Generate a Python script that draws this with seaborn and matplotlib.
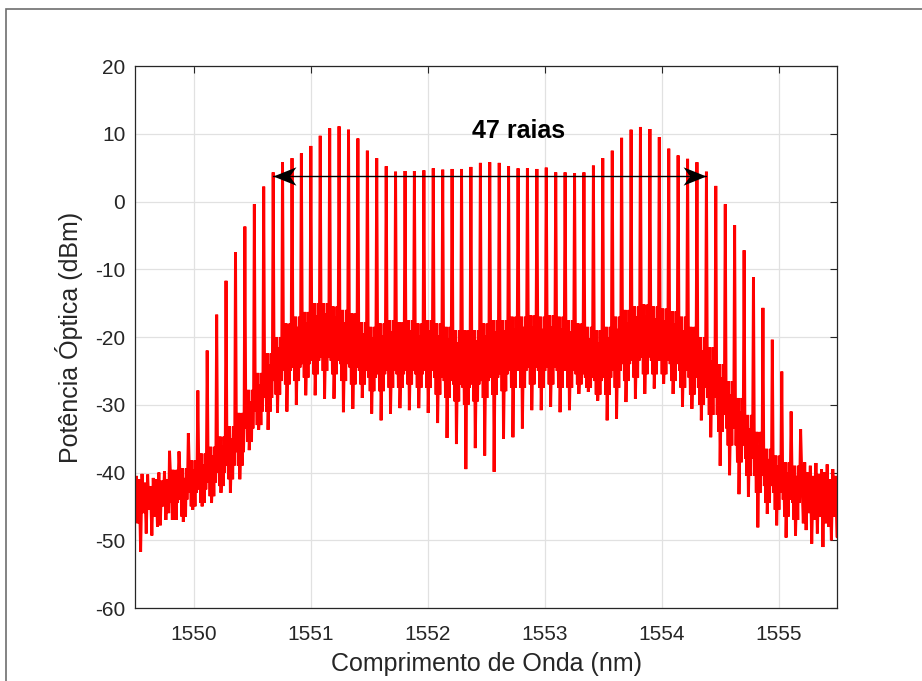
import numpy as np
import pandas as pd
import matplotlib
matplotlib.use("Agg")
import matplotlib.pyplot as plt
import matplotlib.path as mpath
from matplotlib.patches import Rectangle
import seaborn as sns

# ---------------- data ----------------
comb_wl = [1549.795, 1549.876, 1549.956, 1550.037, 1550.117, 1550.198, 1550.278, 1550.359,
           1550.439, 1550.520, 1550.600, 1550.681, 1550.761, 1550.842, 1550.922, 1551.003,
           1551.083, 1551.164, 1551.244, 1551.325, 1551.405, 1551.486, 1551.566, 1551.647,
           1551.727, 1551.808, 1551.888, 1551.969, 1552.049, 1552.130, 1552.210, 1552.291,
           1552.371, 1552.452, 1552.532, 1552.613, 1552.693, 1552.774, 1552.854, 1552.935,
           1553.015, 1553.096, 1553.176, 1553.257, 1553.337, 1553.418, 1553.498, 1553.579,
           1553.659, 1553.740, 1553.820, 1553.901, 1553.981, 1554.062, 1554.142, 1554.223,
           1554.303, 1554.384, 1554.464, 1554.545, 1554.625, 1554.706, 1554.786, 1554.867,
           1554.947, 1555.028, 1555.108, 1555.189]

comb_peak_db = [-36.8, -36.9, -34.2, -27.9, -22.0, -16.7, -11.7, -7.5, -3.7, -0.4, 2.2, 4.3,
                5.8, 6.4, 7.1, 8.2, 9.7, 10.8, 11.1, 10.6, 9.3, 7.5, 6.4, 5.2, 4.4, 4.5, 4.5,
                4.6, 4.9, 4.7, 4.8, 4.8, 5.1, 5.7, 5.8, 5.7, 5.2, 4.9, 4.9, 4.8, 5.0, 4.3, 4.3,
                4.2, 4.3, 5.3, 6.4, 7.5, 9.4, 10.6, 11.0, 10.7, 9.5, 7.8, 6.8, 6.3, 5.8, 4.4,
                2.3, -0.4, -3.5, -7.2, -11.2, -15.7, -20.4, -25.1, -31.0, -33.6]

# trace levels between consecutive comb lines
gap_hi_db = [-39.6, -39.4, -38.2, -37.2, -36.2, -34.7, -33.2, -31.2, -27.8, -25.3, -22.4,
             -20.0, -18.0, -17.0, -16.3, -15.0, -15.0, -15.5, -16.0, -16.5, -17.8, -18.5,
             -18.0, -17.5, -17.8, -17.5, -18.0, -17.5, -18.0, -18.5, -19.0, -19.0, -19.0,
             -18.0, -17.5, -17.5, -17.0, -17.0, -16.8, -17.0, -16.8, -17.0, -17.5, -18.0,
             -18.5, -19.0, -18.5, -17.0, -16.0, -15.5, -15.2, -15.5, -15.8, -16.2, -17.0,
             -18.5, -20.0, -21.5, -24.0, -26.5, -29.0, -31.5, -34.0, -36.5, -37.5, -38.5,
             -39.0]
gap_hi2_db = [-41.0, -40.8, -39.5, -38.8, -37.5, -36.0, -35.0, -33.0, -29.5, -27.0, -24.0,
              -21.5, -19.5, -18.5, -17.8, -16.8, -16.5, -17.0, -17.8, -18.2, -19.5, -20.0,
              -19.8, -19.2, -19.5, -19.0, -19.8, -19.0, -19.8, -20.2, -20.8, -21.0, -20.5,
              -19.8, -19.2, -19.0, -18.8, -18.5, -18.5, -18.8, -18.4, -18.8, -19.2, -19.8,
              -20.2, -20.8, -20.0, -18.8, -17.8, -17.0, -16.8, -17.2, -17.5, -18.0, -19.0,
              -20.5, -22.0, -23.5, -26.0, -28.5, -31.0, -33.5, -36.0, -38.0, -39.0, -40.0,
              -40.5]
gap_mid_db = [-44.5, -44.0, -43.0, -42.5, -41.5, -40.0, -39.0, -37.0, -33.5, -31.0, -29.0,
              -26.5, -25.0, -24.5, -24.0, -23.5, -23.0, -23.5, -24.0, -24.5, -25.0, -26.0,
              -25.5, -25.0, -25.5, -25.0, -25.5, -25.0, -26.0, -26.5, -27.0, -27.5, -27.0,
              -26.5, -26.0, -25.5, -25.0, -25.0, -24.5, -25.0, -24.5, -25.0, -25.0, -25.5,
              -26.0, -26.5, -26.0, -25.0, -24.0, -23.5, -23.0, -23.5, -23.5, -24.0, -25.0,
              -26.0, -27.5, -29.0, -31.5, -33.5, -36.0, -38.0, -40.5, -42.0, -43.0, -44.0,
              -44.5]
gap_mid2_db = [-47.0, -46.5, -45.0, -44.5, -43.5, -42.0, -41.0, -39.0, -35.5, -33.0, -31.0,
               -28.5, -27.0, -26.5, -26.0, -25.5, -25.0, -25.5, -26.5, -27.0, -27.0, -28.0,
               -28.0, -27.5, -27.5, -27.0, -27.5, -27.5, -28.5, -29.0, -29.5, -30.0, -29.5,
               -29.0, -28.5, -28.0, -27.5, -27.5, -27.0, -27.5, -27.0, -27.5, -27.5, -27.0,
               -27.5, -28.5, -28.5, -27.5, -26.5, -26.0, -25.5, -25.5, -25.5, -26.5, -27.5,
               -28.5, -30.0, -31.5, -34.0, -36.0, -38.5, -40.5, -43.0, -44.5, -45.5, -46.5,
               -47.0]
gap_lo_db = [-47.0, -47.3, -45.5, -45.0, -44.5, -43.0, -43.0, -41.0, -36.7, -33.7, -33.7,
             -31.2, -31.0, -30.0, -28.6, -28.6, -29.1, -29.1, -31.1, -30.6, -29.0, -31.3,
             -32.3, -31.3, -30.5, -30.8, -30.5, -31.2, -32.7, -34.9, -35.8, -39.5, -36.4,
             -37.5, -39.9, -35.0, -34.8, -33.5, -30.8, -30.8, -30.3, -31.1, -30.8, -28.4,
             -28.1, -29.4, -32.3, -32.1, -29.6, -29.1, -28.4, -27.6, -26.9, -28.4, -30.3,
             -30.6, -32.3, -34.8, -39.0, -40.4, -43.2, -43.6, -48.1, -46.1, -47.8, -49.6,
             -49.3]

left_noise_wl = [1549.500, 1549.512, 1549.524, 1549.536, 1549.548, 1549.560, 1549.572,
                 1549.584, 1549.596, 1549.608, 1549.620, 1549.632, 1549.644, 1549.656,
                 1549.668, 1549.680, 1549.692, 1549.704, 1549.716, 1549.728, 1549.740,
                 1549.752, 1549.764, 1549.776, 1549.788]
left_noise_db = [-44.0, -40.5, -47.5, -41.0, -51.7, -40.2, -46.0, -41.5, -49.0, -40.3, -45.5,
                 -42.0, -49.3, -40.8, -46.5, -41.0, -48.0, -40.0, -47.8, -41.2, -45.0, -39.8,
                 -47.0, -41.0, -46.0]

right_noise_wl = [1555.200, 1555.212, 1555.224, 1555.236, 1555.248, 1555.260, 1555.272,
                  1555.284, 1555.296, 1555.308, 1555.320, 1555.332, 1555.344, 1555.356,
                  1555.368, 1555.380, 1555.392, 1555.404, 1555.416, 1555.428, 1555.440,
                  1555.452, 1555.464, 1555.476, 1555.488, 1555.500]
right_noise_db = [-41.0, -47.5, -38.5, -48.5, -40.0, -46.0, -39.0, -50.5, -40.5, -47.0, -38.6,
                  -49.0, -40.2, -46.5, -39.5, -51.0, -40.0, -47.5, -38.8, -48.0, -41.0, -50.0,
                  -39.5, -46.5, -40.5, -49.5]

x_ticks = [1550, 1551, 1552, 1553, 1554, 1555]
y_ticks = [-60, -50, -40, -30, -20, -10, 0, 10, 20]
x_limits = (1549.5, 1555.5)
y_limits = (-60, 20)

arrow_first_line = 11
arrow_last_line = 57
arrow_level_db = 3.7
label_text = "47 raias"
label_wl = 1552.78
label_db = 10.4

x_label = "Comprimento de Onda (nm)"
y_label = "Potência Óptica (dBm)"

# ---------------- build the trace ----------------
GAP_FRACS = [0.08, 0.15, 0.22, 0.30, 0.38, 0.46, 0.54, 0.62, 0.70, 0.78, 0.85, 0.92]
GAP_KIND = ["hi", "mid", "hi2", "mid2", "hi", "lo", "mid", "hi2", "mid2", "hi", "mid", "hi2"]

wl = list(left_noise_wl)
db = list(left_noise_db)
for i in range(len(comb_wl)):
    wl.append(comb_wl[i])
    db.append(comb_peak_db[i])
    if i < len(comb_wl) - 1:
        w0, w1 = comb_wl[i], comb_wl[i + 1]
        levels = {"hi": gap_hi_db[i], "hi2": gap_hi2_db[i], "mid": gap_mid_db[i],
                  "mid2": gap_mid2_db[i], "lo": gap_lo_db[i]}
        for f, k in zip(GAP_FRACS, GAP_KIND):
            wl.append(w0 + f * (w1 - w0))
            db.append(levels[k])
wl += right_noise_wl
db += right_noise_db
df = pd.DataFrame({"wl": wl, "db": db})

# ---------------- plot ----------------
sns.set_style("white")
plt.rcParams["font.family"] = ["Liberation Sans", "DejaVu Sans"]
plt.rcParams["axes.unicode_minus"] = False

fig = plt.figure(figsize=(9.22, 6.81), dpi=100)
ax = fig.add_axes([135 / 922, 1 - 608 / 681, (837 - 135) / 922, (608 - 66) / 681])

sns.lineplot(data=df, x="wl", y="db", ax=ax, estimator=None, sort=False,
             color="#ff0000", linewidth=2.1)
for ln in ax.get_lines():
    ln.set_solid_joinstyle("bevel")

ax.set_xlim(*x_limits)
ax.set_ylim(*y_limits)
ax.set_xticks(x_ticks)
ax.set_yticks(y_ticks)
ax.set_xticklabels([str(t) for t in x_ticks])
ax.set_yticklabels([str(t) for t in y_ticks])

ax.grid(True, color="#e1e1e1", linewidth=0.9)
ax.set_axisbelow(True)
for s in ax.spines.values():
    s.set_color("#262626")
    s.set_linewidth(0.9)
ax.tick_params(direction="in", length=5, width=0.8, top=True, right=True,
               colors="#262626", labelsize=15)
ax.tick_params(axis="x", pad=12)
ax.tick_params(axis="y", pad=7)

ax.set_xlabel(x_label, fontsize=18, color="#262626", labelpad=6)
ax.set_ylabel(y_label, fontsize=18, color="#262626", labelpad=9)

# double arrow with notched heads
x0 = comb_wl[arrow_first_line]
x1 = comb_wl[arrow_last_line]
ax.plot([x0, x1], [arrow_level_db, arrow_level_db], color="black", lw=1.0, zorder=5)
left_head = mpath.Path([(0, 0), (1.0, 0.4), (0.72, 0), (1.0, -0.4), (0, 0)],
                       [1, 2, 2, 2, 79])
right_head = mpath.Path([(0, 0), (-1.0, 0.4), (-0.72, 0), (-1.0, -0.4), (0, 0)],
                        [1, 2, 2, 2, 79])
ax.plot([x0], [arrow_level_db], marker=left_head, markersize=33, color="black",
        markeredgewidth=0, linestyle="none", zorder=6)
ax.plot([x1], [arrow_level_db], marker=right_head, markersize=33, color="black",
        markeredgewidth=0, linestyle="none", zorder=6)

ax.text(label_wl, label_db, label_text, fontsize=18, fontweight="bold",
        ha="center", va="center", color="black")

# figure frame (cropped MATLAB figure edge)
fig.patches.append(Rectangle((6 / 922, -0.05), 1.2, 1.05 - 9.5 / 681,
                             transform=fig.transFigure, fill=False,
                             edgecolor="#6e6e6e", linewidth=1.2))

fig.savefig("out.png", dpi=100)
